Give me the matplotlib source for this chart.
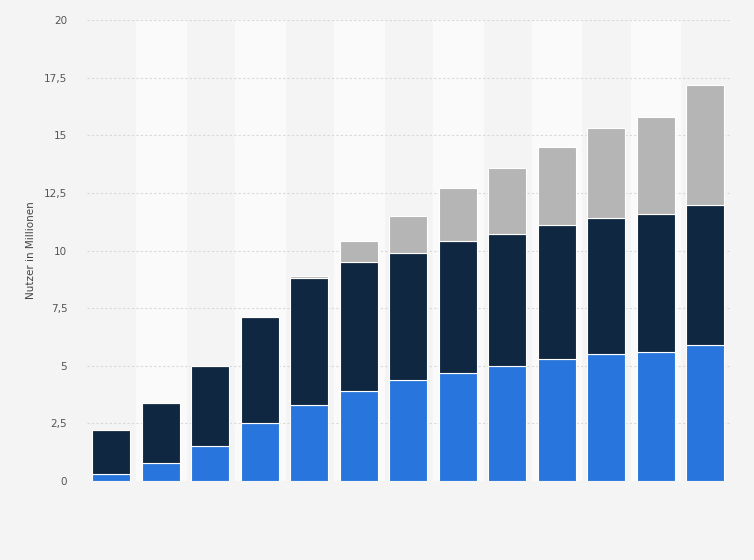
import matplotlib
matplotlib.use("Agg")
import matplotlib.pyplot as plt
import numpy as np

blue = [0.3, 0.8, 1.5, 2.5, 3.3, 3.9, 4.4, 4.7, 5.0, 5.3, 5.5, 5.6, 5.9]
dark_total = [2.2, 3.4, 5.0, 7.1, 8.8, 9.5, 9.9, 10.4, 10.7, 11.1, 11.4, 11.6, 12.0]
grey_total = [2.2, 3.4, 5.0, 7.1, 8.9, 10.4, 11.5, 12.7, 13.6, 14.5, 15.3, 15.8, 17.2]
yticks = [0, 2.5, 5, 7.5, 10, 12.5, 15, 17.5, 20]
ylabels = ["0", "2,5", "5", "7,5", "10", "12,5", "15", "17,5", "20"]

dark = np.array(dark_total) - np.array(blue)
grey = np.array(grey_total) - np.array(dark_total)
x = np.arange(len(blue))

fig = plt.figure(figsize=(7.54, 5.60), dpi=100, facecolor="#f4f4f4")
ax = fig.add_axes([0.115, 0.141, 0.853, 0.823])
ax.set_facecolor("#f4f4f4")
for i in x:
    if i % 2 == 1:
        ax.axvspan(i - 0.5, i + 0.5, color="#fafafa", zorder=0)
for y in yticks[1:]:
    ax.axhline(y, color="#d8d8d8", lw=0.8, ls=(0, (2, 2)), zorder=1)
w = 0.77
kw = dict(width=w, edgecolor="white", linewidth=0.8, zorder=3)
ax.bar(x, blue, color="#2876dd", **kw)
ax.bar(x, dark, bottom=blue, color="#0f2740", **kw)
ax.bar(x, grey, bottom=dark_total, color="#b5b5b5", **kw)
ax.set_xlim(-0.5, len(x) - 0.5)
ax.set_ylim(0, 20)
ax.set_yticks(yticks)
ax.set_yticklabels(ylabels, fontsize=7.5, color="#555555")
ax.set_xticks([])
ax.tick_params(axis="y", length=0, pad=14)
for s in ax.spines.values():
    s.set_visible(False)
ax.set_ylabel("Nutzer in Millionen", fontsize=7.5, color="#444444", labelpad=6)
fig.savefig("out.png", dpi=100, facecolor=fig.get_facecolor())
